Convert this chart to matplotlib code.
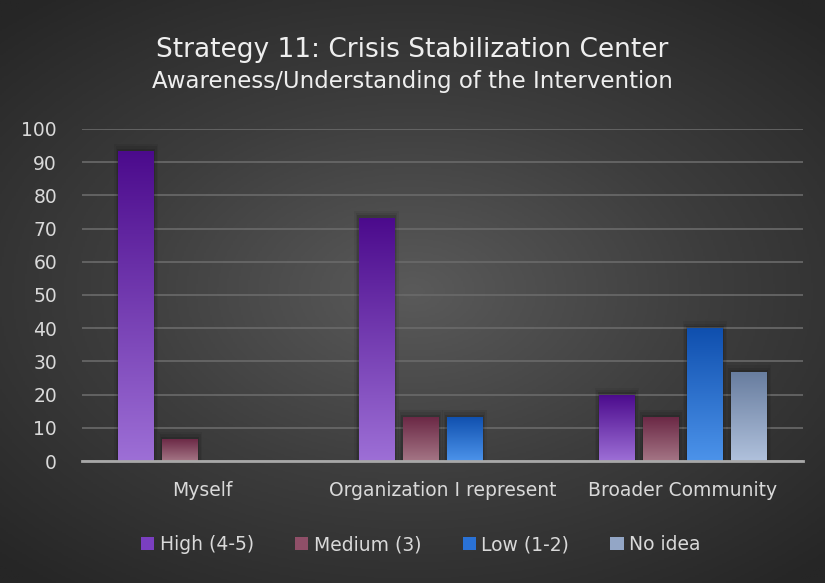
import matplotlib
matplotlib.use("Agg")
import matplotlib.pyplot as plt
from matplotlib.colors import LinearSegmentedColormap
from matplotlib.patches import Patch
import numpy as np

# donnees
categories = ["Myself", "Organization I represent", "Broader Community"]
series = ["High (4-5)", "Medium (3)", "Low (1-2)", "No idea"]
high = [93.3, 73.3, 20.0]
medium = [6.7, 13.3, 13.3]
low = [0.0, 13.3, 40.0]
no_idea = [0.0, 0.0, 26.7]
values = [high, medium, low, no_idea]

# couleurs (haut, bas) pour le degrade
grad_colors = [
    ("#4b0a8c", "#9d6fd6"),
    ("#6a2744", "#a47585"),
    ("#0f4fae", "#4c93ea"),
    ("#687d9f", "#b0c1dc"),
]
legend_colors = ["#7a3fc0", "#8f4f68", "#2a72d6", "#93a6c6"]

fig = plt.figure(figsize=(8.25, 5.83), dpi=100)

# fond avec degrade radial
bg = fig.add_axes([0, 0, 1, 1], zorder=0)
yy, xx = np.mgrid[-1:1:300j, -1:1:400j]
r = np.sqrt((xx * 0.9) ** 2 + (yy * 1.0) ** 2)
bg_cmap = LinearSegmentedColormap.from_list("bg", ["#5a5a5a", "#3d3d3d", "#262626"])
bg.imshow(r, cmap=bg_cmap, aspect="auto", extent=[0, 1, 0, 1], vmin=0, vmax=1.3)
bg.axis("off")

ax = fig.add_axes([0.0994, 0.209, 0.874, 0.570], zorder=1)
ax.patch.set_alpha(0)

x = np.arange(len(categories))
width = 0.148
step = 0.183
offsets = (np.arange(len(series)) - 1.5) * step

grad = np.linspace(1, 0, 256).reshape(-1, 1)
for i, vals in enumerate(values):
    cmap = LinearSegmentedColormap.from_list("g%d" % i, [grad_colors[i][1], grad_colors[i][0]])
    bars = ax.bar(x + offsets[i], vals, width, color="none", edgecolor="none", zorder=3)
    for b in bars:
        h = b.get_height()
        if h <= 0:
            continue
        x0 = b.get_x()
        bw = b.get_width()
        # ombre douce
        for k, a in [(3, 0.06), (2, 0.08), (1, 0.12)]:
            ax.add_patch(plt.Rectangle((x0 - 0.006 * k, 0), bw + 0.012 * k, h + 0.7 * k,
                                       color="black", alpha=a, zorder=2, lw=0))
        im = ax.imshow(grad, cmap=cmap, aspect="auto", extent=[x0, x0 + bw, 0, h],
                       zorder=3, vmin=0, vmax=1)
        im.set_clip_path(b)

ax.set_xlim(-0.5, 2.5)
ax.set_ylim(0, 100)
ax.set_yticks(range(0, 101, 10))
ax.set_xticks(x)
ax.set_xticklabels(categories)
ax.yaxis.grid(True, color="#6a6a6a", lw=1.2, zorder=1)
ax.set_axisbelow(True)
for s in ["top", "right", "left"]:
    ax.spines[s].set_visible(False)
ax.spines["bottom"].set_color("#a8a8a8")
ax.spines["bottom"].set_linewidth(2)
ax.spines["bottom"].set_zorder(4)
ax.tick_params(axis="both", length=0, labelsize=13.5, colors="#d9d9d9")
ax.tick_params(axis="y", pad=18)
ax.tick_params(axis="x", pad=14)

# titre
fig.text(0.5, 0.915, "Strategy 11: Crisis Stabilization Center", ha="center", va="center",
         fontsize=19, color="#eeeeee", family="DejaVu Sans")
fig.text(0.5, 0.860, "Awareness/Understanding of the Intervention", ha="center", va="center",
         fontsize=16.5, color="#eeeeee", family="DejaVu Sans")

# legende
handles = [Patch(facecolor=c, edgecolor="none") for c in legend_colors]
leg = fig.legend(handles, series, loc="center", bbox_to_anchor=(0.51, 0.066), ncol=4,
                 frameon=False, fontsize=13.5, handlelength=0.7, handleheight=0.7,
                 handletextpad=0.3, columnspacing=2.2)
for t in leg.get_texts():
    t.set_color("#d9d9d9")

plt.savefig("out.png", dpi=100)
plt.close()
